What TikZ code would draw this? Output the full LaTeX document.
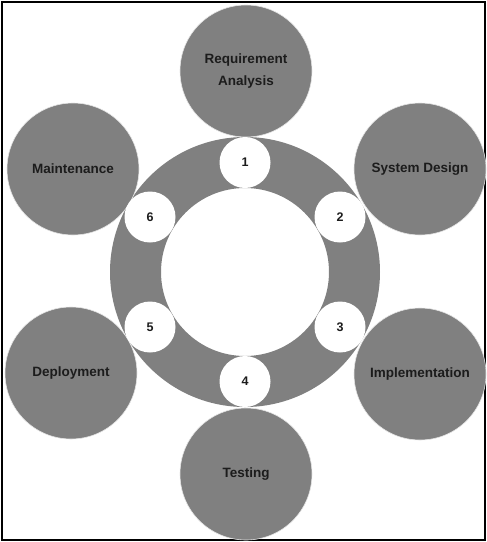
\documentclass[tikz,border=0pt]{standalone}
\usepackage{fontspec}
\setmainfont{Liberation Sans}
\definecolor{phasegray}{HTML}{808080}
\definecolor{labelink}{HTML}{1C1C1C}
\begin{document}
\begin{tikzpicture}
[x=1pt, y=-1pt,
 phase/.style={circle, fill=phasegray, draw=white!80!gray, line width=0.6pt, minimum size=132pt, inner sep=0pt,
   align=center, font=\bfseries\fontsize{13.5}{22}\selectfont, text=labelink},
 stepnum/.style={circle, fill=white, minimum size=51pt, inner sep=0pt, font=\bfseries\fontsize{12.5}{14}\selectfont, text=labelink}]
\useasboundingbox (0,0) rectangle (487,542);
\draw [line width=2pt] (2,2) rectangle (485,540);
% ring
\coordinate (hub) at (245,272);
\fill [phasegray, even odd rule] (hub) circle [radius=135] (hub) circle [radius=84];
% phases
\node [phase] (req) at (246,71) {Requirement\\Analysis};
\node [phase] (design) at (420,169) {System Design};
\node [phase] (impl) at (420,374) {Implementation};
\node [phase] (test) at (246,474) {Testing};
\node [phase] (deploy) at (71,373) {Deployment};
\node [phase] (maint) at (73,169) {Maintenance};
% numbers
\node [stepnum] (s1) at (245,162.5) {1};
\node [stepnum] (s2) at (340,217) {2};
\node [stepnum] (s3) at (340,327) {3};
\node [stepnum] (s4) at (245,381.5) {4};
\node [stepnum] (s5) at (150,327) {5};
\node [stepnum] (s6) at (150,217) {6};
\end{tikzpicture}
\end{document}
